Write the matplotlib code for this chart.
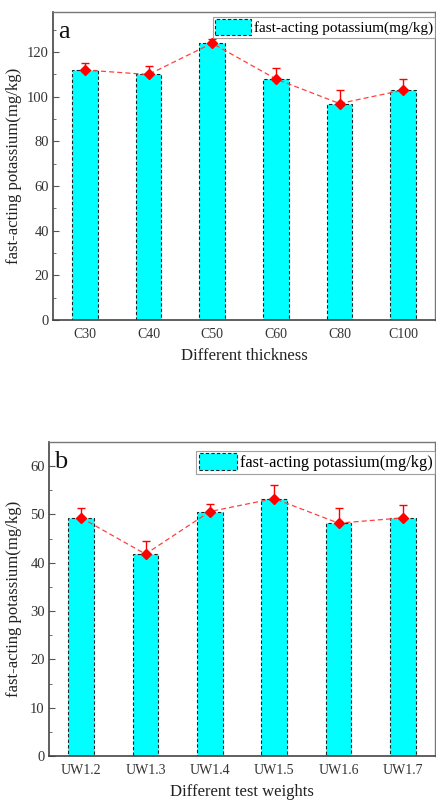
import matplotlib.pyplot as plt
from matplotlib.ticker import MultipleLocator
import numpy as np

plt.rcParams['font.family'] = ['Liberation Serif', 'DejaVu Serif']

# panel a
thick_labels = ['C30', 'C40', 'C50', 'C60', 'C80', 'C100']
thick_vals = [112, 110, 124, 108, 97, 103]
thick_err = [3, 4, 2, 5, 6, 5]

# panel b
weight_labels = ['UW1.2', 'UW1.3', 'UW1.4', 'UW1.5', 'UW1.6', 'UW1.7']
weight_vals = [49.3, 41.8, 50.6, 53.3, 48.2, 49.3]
weight_err = [2.1, 2.7, 1.5, 2.7, 3.1, 2.6]

legend_label = 'fast-acting potassium(mg/kg)'
ylabel = 'fast-acting potassium(mg/kg)'


def draw_panel(ax, labels, vals, errs, letter, xlabel, ymax, major, minor,
               ylab_x, leg_fs, leg_top):
    x = np.arange(len(labels))
    ax.bar(x, vals, width=0.4, color='#00FFFF', edgecolor='#222222',
           linestyle=(0, (3, 2)), linewidth=0.8, label=legend_label, zorder=2)
    # upward error bars only
    ax.errorbar(x, vals, yerr=[np.zeros(len(vals)), errs], fmt='none',
                ecolor='red', elinewidth=1.0, capsize=3, capthick=1.0, zorder=3)
    ax.plot(x, vals, color='#ff4040', linestyle=(0, (4, 2.5)), linewidth=0.9,
            marker='D', markersize=5, markerfacecolor='red',
            markeredgecolor='red', zorder=4)
    ax.set_xlim(-0.5, len(labels) - 0.5)
    ax.set_ylim(0, ymax)
    ax.set_xticks(x)
    ax.set_xticklabels(labels, fontsize=10, color='#333333')
    ax.tick_params(axis='x', length=0, pad=6)
    ax.yaxis.set_major_locator(MultipleLocator(major))
    ax.yaxis.set_minor_locator(MultipleLocator(minor))
    ax.tick_params(axis='y', which='major', direction='in', length=4, pad=3,
                   labelsize=10.5, labelcolor='#333333', color='#555555')
    ax.tick_params(axis='y', which='minor', direction='in', length=2,
                   color='#555555')
    for s in ['left', 'bottom']:
        ax.spines[s].set_color('#444444')
        ax.spines[s].set_linewidth(1.2)
    for s in ['top', 'right']:
        ax.spines[s].set_color('#777777')
        ax.spines[s].set_linewidth(1.0)
    ax.set_xlabel(xlabel, fontsize=12, color='#222222', labelpad=5)
    ax.set_ylabel(ylabel, fontsize=12, color='#222222')
    ax.yaxis.set_label_coords(ylab_x, 0.5)
    ax.text(0.014, 0.935, letter, transform=ax.transAxes, fontsize=19,
            va='center', ha='left', color='#111111')
    leg = ax.legend(loc='upper right', bbox_to_anchor=(1.0, leg_top),
                    fontsize=leg_fs, frameon=True, fancybox=False,
                    borderpad=0.15, handlelength=2.3, handleheight=1.2,
                    handletextpad=0.2, borderaxespad=0.0)
    leg.get_frame().set_edgecolor('#888888')
    leg.get_frame().set_linewidth(0.8)


fig = plt.figure(figsize=(4.36, 8.0), dpi=100)
ax1 = fig.add_axes([53 / 436, 1 - 320 / 800, 382 / 436, 308 / 800])
ax2 = fig.add_axes([49 / 436, 1 - 756 / 800, 386 / 436, 314 / 800])

draw_panel(ax1, thick_labels, thick_vals, thick_err, 'a', 'Different thickness',
           138, 20, 10, -0.081, 11, 1 - 5 / 308)
draw_panel(ax2, weight_labels, weight_vals, weight_err, 'b', 'Different test weights',
           65, 10, 5, -0.07, 11.8, 1 - 9 / 314)

fig.savefig('out.png', dpi=100)
